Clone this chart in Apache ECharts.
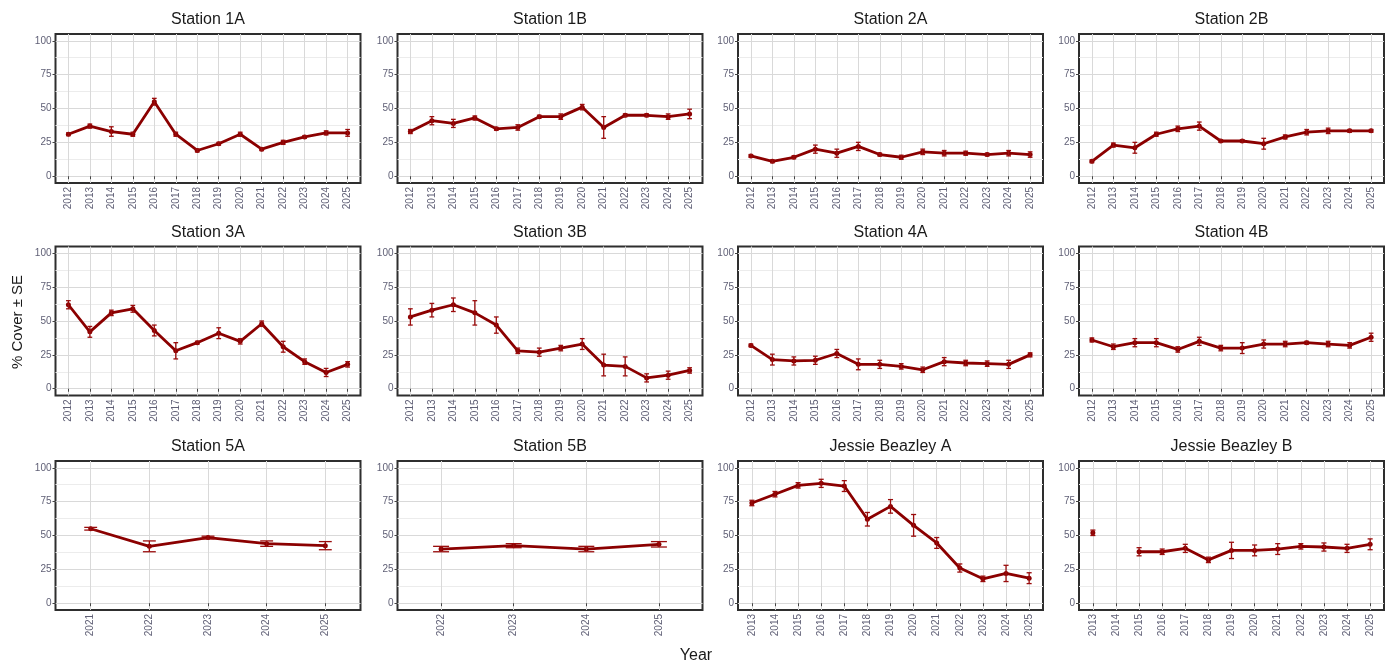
<!DOCTYPE html>
<html>
<head>
<meta charset="utf-8">
<script src="https://cdn.jsdelivr.net/npm/echarts@6/dist/echarts.min.js"></script>
<style>
  html, body { margin: 0; padding: 0; background: #fff; }
  #chart { width: 1394px; height: 665px; }
</style>
</head>
<body>
<div id="chart"></div>
<script>
// years on the x axis
var years12 = [2012, 2013, 2014, 2015, 2016, 2017, 2018, 2019, 2020, 2021, 2022, 2023, 2024, 2025];
var years13 = [2013, 2014, 2015, 2016, 2017, 2018, 2019, 2020, 2021, 2022, 2023, 2024, 2025];
var years5A = [2021, 2022, 2023, 2024, 2025];
var years5B = [2022, 2023, 2024, 2025];
var yTicks = [0, 25, 50, 75, 100];
var yMinor = [12.5, 37.5, 62.5, 87.5];

// % cover (mean) and SE
var st1A_mean = [31, 37, 33, 31, 55, 31, 19, 24, 31, 20, 25, 29, 32, 32];
var st1A_se   = [1, 1.5, 3.5, 1.5, 2.5, 1.5, 1, 1, 1.5, 1, 1.5, 1, 1.5, 2.5];
var st1B_mean = [33, 41, 39, 43, 35, 36, 44, 44, 51, 36, 45, 45, 44, 46];
var st1B_se   = [1.5, 3, 3, 1.5, 1, 2, 1, 2, 2, 8, 1, 1, 2, 3.5];
var st2A_mean = [15, 11, 14, 20, 17, 22, 16, 14, 18, 17, 17, 16, 17, 16];
var st2A_se   = [1, 1, 1, 3, 3, 3, 1, 1.5, 2, 2, 1.5, 1, 2, 2];
var st2B_mean = [11, 23, 21, 31, 35, 37, 26, 26, 24, 29, 32.5, 33.5, 33.5, 33.5];
var st2B_se   = [1, 1.5, 4, 1.5, 2, 3, 1, 1, 4, 1.5, 2, 2, 1, 1];
var st3A_mean = [62, 42, 56, 59, 43, 28, 34, 41, 35, 48, 31, 20, 12, 18];
var st3A_se   = [3, 4, 2, 2.5, 4, 6, 1, 4, 2, 2, 4, 2, 3, 2];
var st3B_mean = [53, 58, 62, 56, 47, 28, 27, 30, 33, 17.5, 16.5, 8, 10, 13.5];
var st3B_se   = [6, 5, 5, 9, 6, 2, 3, 2, 4, 8, 7, 3, 3, 2];
var st4A_mean = [32, 21.5, 20.5, 21, 26, 18, 18, 16.5, 14, 20, 19, 18.5, 18, 25];
var st4A_se   = [1, 4, 3, 3, 3, 4, 3, 2, 2, 3, 2, 2, 3, 1.5];
var st4B_mean = [36, 31, 34, 34, 29, 35, 30, 30, 33, 33, 34, 33, 32, 38];
var st4B_se   = [1.5, 2, 3, 3, 2, 3, 2, 4, 3, 2, 1, 2, 2, 3];
var st5A_mean = [55, 42, 48.5, 44, 42.5];
var st5A_se   = [1, 4, 1, 2, 3];
var st5B_mean = [40, 42.5, 40, 43.5];
var st5B_se   = [2, 1.5, 2, 2];
var jbA_mean  = [74, 80.5, 87, 88.5, 86.5, 62, 71.5, 57.5, 44.5, 26, 18, 22, 18.5];
var jbA_se    = [2, 2, 2, 3, 4, 5, 5, 8, 4, 3, 2, 6, 4];
var jbB_mean  = [52, null, 38, 38, 40.5, 32, 39, 39, 40, 42, 41.5, 40.5, 43.5];
var jbB_se    = [2, null, 3, 2, 3, 2, 6, 4, 4, 2, 3, 3, 4];

var panels = [
  { title: 'Station 1A', years: years12, mean: st1A_mean, se: st1A_se },
  { title: 'Station 1B', years: years12, mean: st1B_mean, se: st1B_se },
  { title: 'Station 2A', years: years12, mean: st2A_mean, se: st2A_se },
  { title: 'Station 2B', years: years12, mean: st2B_mean, se: st2B_se },
  { title: 'Station 3A', years: years12, mean: st3A_mean, se: st3A_se },
  { title: 'Station 3B', years: years12, mean: st3B_mean, se: st3B_se },
  { title: 'Station 4A', years: years12, mean: st4A_mean, se: st4A_se },
  { title: 'Station 4B', years: years12, mean: st4B_mean, se: st4B_se },
  { title: 'Station 5A', years: years5A, mean: st5A_mean, se: st5A_se },
  { title: 'Station 5B', years: years5B, mean: st5B_mean, se: st5B_se },
  { title: 'Jessie Beazley A', years: years13, mean: jbA_mean, se: jbA_se },
  { title: 'Jessie Beazley B', years: years13, mean: jbB_mean, se: jbB_se }
];

var colLefts = [55.5, 397.5, 738, 1079];
var rowTops = [34, 246.5, 461];
var boxW = 305, boxH = 149;
var red = '#8b0000';
var font = "'Liberation Sans', Arial, sans-serif";
var tickColor = '#5f5f75';

var grids = [], xAxes = [], yAxes = [], series = [], graphics = [];

panels.forEach(function (p, i) {
  var left = colLefts[i % 4], top = rowTops[Math.floor(i / 4)];
  grids.push({
    left: left, top: top, width: boxW, height: boxH,
    show: true, borderColor: '#2e2e2e', borderWidth: 2, backgroundColor: '#fff'
  });
  var ys = p.years;
  xAxes.push({
    type: 'value', gridIndex: i,
    min: ys[0] - 0.6, max: ys[ys.length - 1] + 0.6,
    axisLine: { show: false },
    axisTick: { show: true, length: 3, customValues: ys, lineStyle: { color: '#444' } },
    axisLabel: {
      customValues: ys, rotate: 90, margin: 4,
      fontSize: 10, fontFamily: font, color: tickColor,
      formatter: function (v) { return String(v); }
    },
    splitLine: { show: true, lineStyle: { color: '#d9d9d9', width: 1 } }
  });
  // main y axis with labels
  yAxes.push({
    type: 'value', gridIndex: i, min: -5, max: 105,
    axisLine: { show: false },
    axisTick: { show: true, length: 3, customValues: yTicks, lineStyle: { color: '#444' } },
    axisLabel: { customValues: yTicks, margin: 4, fontSize: 10, fontFamily: font, color: tickColor },
    splitLine: { show: true, lineStyle: { color: '#d9d9d9', width: 1 } }
  });
  // minor horizontal grid
  yAxes.push({
    type: 'value', gridIndex: i, min: -5, max: 105,
    axisLine: { show: false },
    axisTick: { show: false, customValues: yMinor },
    axisLabel: { show: false },
    splitLine: { show: true, lineStyle: { color: '#ececec', width: 1 } }
  });

  var lineData = ys.map(function (y, k) { return [y, p.mean[k]]; });
  var barData = [];
  ys.forEach(function (y, k) {
    if (p.mean[k] != null) barData.push([y, p.mean[k] - p.se[k], p.mean[k] + p.se[k]]);
  });

  series.push({
    type: 'line', xAxisIndex: i, yAxisIndex: 2 * i,
    data: lineData, connectNulls: false,
    symbol: 'circle', symbolSize: 5, showSymbol: true,
    lineStyle: { color: red, width: 2.8 },
    itemStyle: { color: red },
    silent: true, animation: false, z: 3
  });
  series.push({
    type: 'custom', xAxisIndex: i, yAxisIndex: 2 * i,
    data: barData, encode: { x: 0, y: [1, 2] },
    silent: true, animation: false, z: 4,
    renderItem: function (params, api) {
      var x = api.value(0), lo = api.value(1), hi = api.value(2);
      var pTop = api.coord([x, hi]), pBot = api.coord([x, lo]);
      var pL = api.coord([x - 0.11, hi]), pR = api.coord([x + 0.11, hi]);
      var st = { stroke: '#9a0c0c', lineWidth: 1.3 };
      return {
        type: 'group',
        children: [
          { type: 'line', shape: { x1: pTop[0], y1: pTop[1], x2: pBot[0], y2: pBot[1] }, style: st },
          { type: 'line', shape: { x1: pL[0], y1: pTop[1], x2: pR[0], y2: pTop[1] }, style: st },
          { type: 'line', shape: { x1: pL[0], y1: pBot[1], x2: pR[0], y2: pBot[1] }, style: st }
        ]
      };
    }
  });

  graphics.push({
    type: 'text', x: left + boxW / 2, y: top - 14,
    style: { text: p.title, font: '16px ' + font, fill: '#1a1a1a', align: 'center', verticalAlign: 'middle' }
  });
});

graphics.push({
  type: 'text', x: 18, y: 322, rotation: Math.PI / 2,
  style: { text: '% Cover ± SE', font: '15px ' + font, fill: '#1a1a1a', align: 'center', verticalAlign: 'middle' }
});
graphics.push({
  type: 'text', x: 696, y: 656,
  style: { text: 'Year', font: '16px ' + font, fill: '#1a1a1a', align: 'center', verticalAlign: 'middle' }
});

var chart = echarts.init(document.getElementById('chart'), null, { renderer: 'canvas' });
chart.setOption({
  animation: false,
  backgroundColor: '#fff',
  grid: grids,
  xAxis: xAxes,
  yAxis: yAxes,
  series: series,
  graphic: graphics
});
</script>
</body>
</html>
